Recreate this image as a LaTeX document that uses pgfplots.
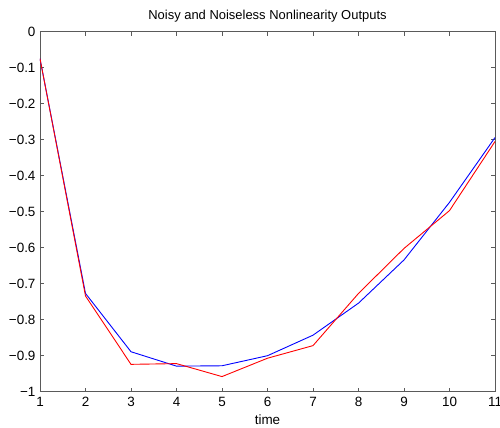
\documentclass[border=0pt]{standalone}
\usepackage{fontspec}
\setmainfont{Liberation Sans}
\usepackage{pgfplots}
\pgfplotsset{compat=1.18}
\definecolor{axgray}{RGB}{90,90,90}

\begin{document}
\begin{tikzpicture}[x=1bp,y=1bp]
\begin{axis}[
  scale only axis,
  width=455bp,
  height=360bp,
  xmin=1, xmax=11,
  ymin=-1, ymax=0,
  xtick={1,2,...,11},
  ytick={-1,-0.9,-0.8,-0.7,-0.6,-0.5,-0.4,-0.3,-0.2,-0.1,0},
  yticklabels={−1,−0.9,−0.8,−0.7,−0.6,−0.5,−0.4,−0.3,−0.2,−0.1,0},
  /pgf/number format/assume math mode=true,
  tick align=inside,
  major tick length=4bp,
  tick style={axgray, line width=0.6bp},
  axis line style={axgray, line width=0.8bp},
  ticklabel style={font=\fontsize{13.5}{15}\selectfont},
  xticklabel style={yshift=-2bp},
  yticklabel style={xshift=-1bp},
  title={Noisy and Noiseless Nonlinearity Outputs},
  title style={font=\fontsize{13}{15}\selectfont, yshift=0bp},
  xlabel={time},
  xlabel style={font=\fontsize{13.5}{15}\selectfont, yshift=-1bp},
]
\addplot[blue, line width=0.9bp] coordinates {
  (1,-0.075) (2,-0.727) (3,-0.889) (4,-0.929) (5,-0.928) (6,-0.900)
  (7,-0.843) (8,-0.754) (9,-0.634) (10,-0.474) (11,-0.294)
};
\addplot[red, line width=0.9bp] coordinates {
  (1,-0.075) (2,-0.734) (3,-0.924) (4,-0.922) (5,-0.958) (6,-0.907)
  (7,-0.872) (8,-0.727) (9,-0.602) (10,-0.497) (11,-0.305)
};
\end{axis}
\pgfresetboundingbox
\path (-40bp,-36.3bp) rectangle (460bp,391.7bp);
\end{tikzpicture}
\end{document}
